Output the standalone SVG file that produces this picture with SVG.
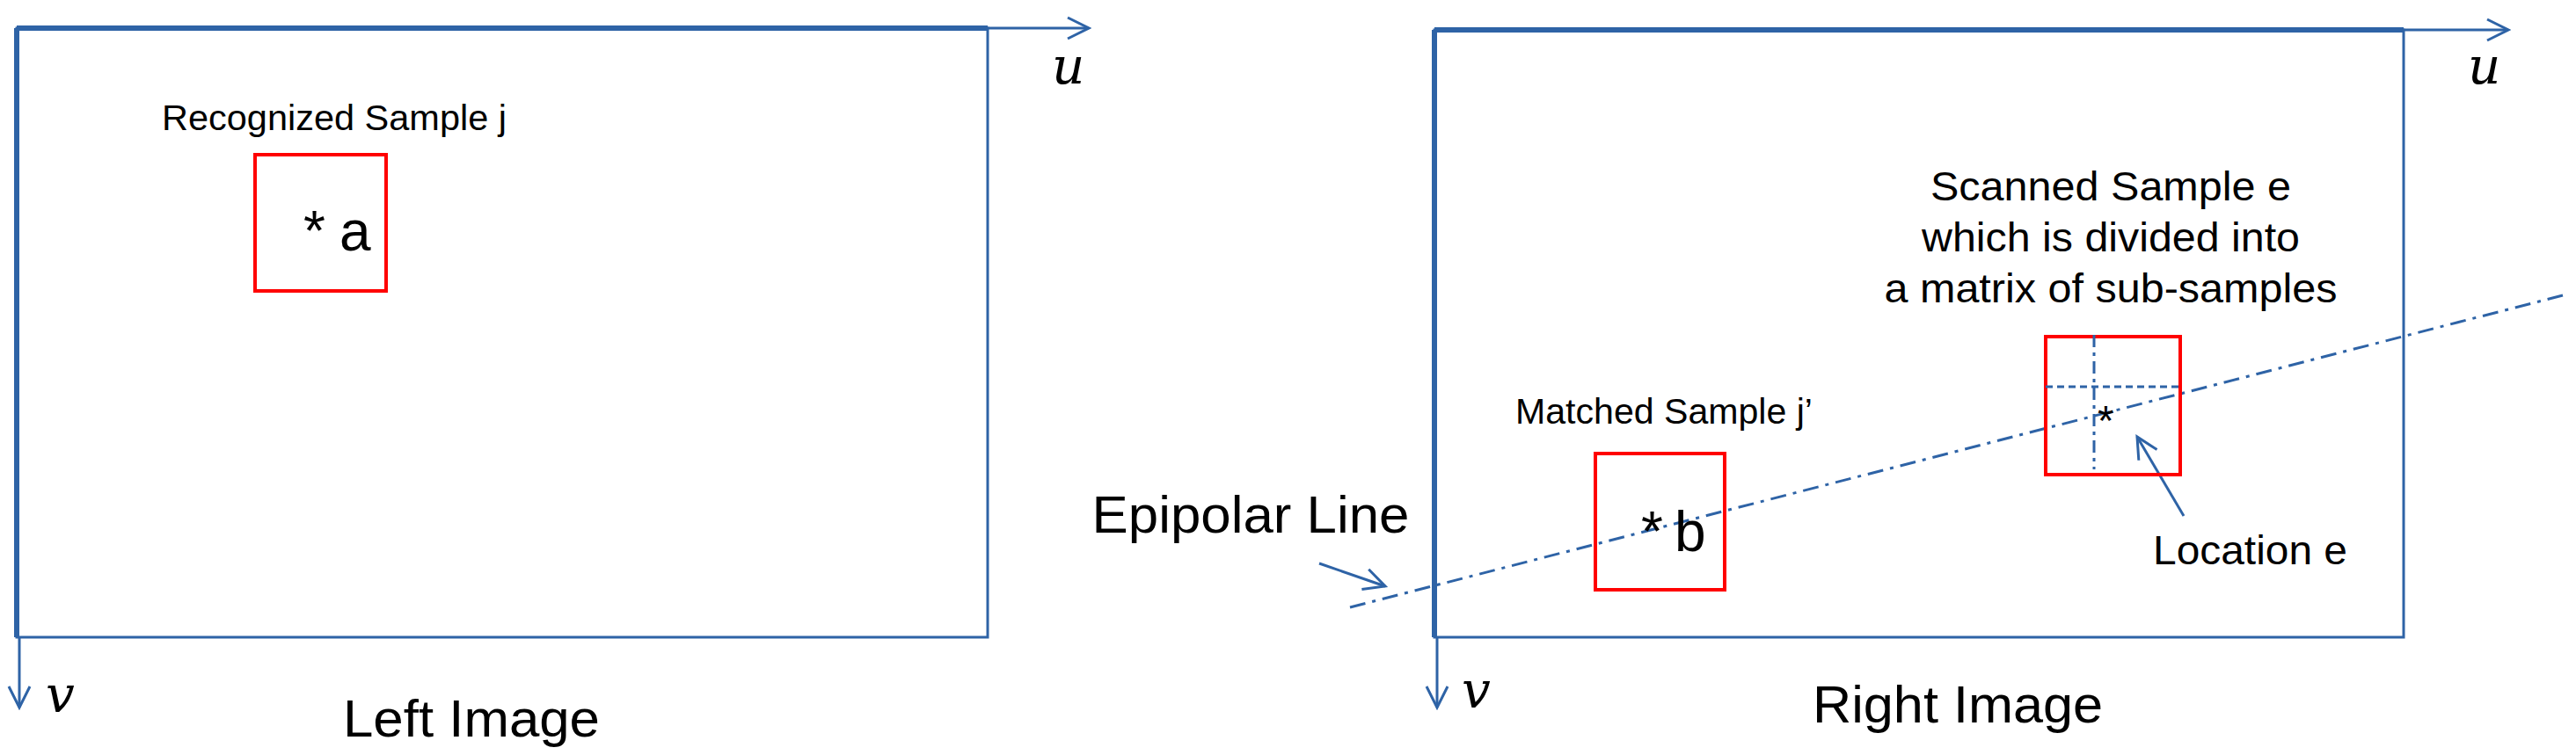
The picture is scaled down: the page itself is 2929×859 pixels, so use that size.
<svg xmlns="http://www.w3.org/2000/svg" width="2929" height="859" viewBox="0 0 2929 859">
<defs>
<style>
.fr{fill:none;stroke:#2E63A6;stroke-width:3}
.ax{fill:none;stroke:#2E63A6;stroke-width:6}
.bx{fill:none;stroke:#FF0000;stroke-width:4}
.t{font-family:"Liberation Sans",Arial,sans-serif;fill:#000}
.m{font-family:"DejaVu Serif","Liberation Serif",serif;font-style:italic;fill:#000;font-size:58px}
.ln{fill:none;stroke:#2E63A6;stroke-width:3}
</style>
<marker id="ah2" viewBox="0 0 30 30" refX="27" refY="15" markerWidth="30" markerHeight="30" markerUnits="userSpaceOnUse" orient="auto">
<path d="M3,3 L27,15 L3,27" fill="none" stroke="#2E63A6" stroke-width="3"/>
</marker>
</defs>
<g id="left-image">
<rect class="fr" x="19" y="32" width="1104" height="693"/>
<line class="ax" x1="19" y1="32" x2="1123" y2="32"/>
<line class="ax" x1="19" y1="32" x2="19" y2="725"/>
<line class="ln" x1="1123" y1="32" x2="1238" y2="32" marker-end="url(#ah2)"/>
<line class="ln" x1="22" y1="725" x2="22" y2="805" marker-end="url(#ah2)"/>
<text class="m" x="1196" y="95">u</text>
<text class="m" x="52" y="810">v</text>
<text class="t" x="536" y="838" font-size="60" text-anchor="middle" textLength="292" lengthAdjust="spacingAndGlyphs">Left Image</text>
</g>
<g id="sample-a">
<text class="t" x="380" y="148" font-size="40" text-anchor="middle" textLength="392" lengthAdjust="spacingAndGlyphs">Recognized Sample j</text>
<rect class="bx" x="290" y="176" width="149" height="155"/>
<text class="t" x="345" y="285" font-size="64">*</text>
<text class="t" x="386" y="285" font-size="64">a</text>
</g>
<g id="right-image">
<rect class="fr" x="1631" y="34" width="1102" height="691"/>
<line class="ax" x1="1631" y1="34" x2="2733" y2="34"/>
<line class="ax" x1="1631" y1="34" x2="1631" y2="725"/>
<line class="ln" x1="2733" y1="34" x2="2852" y2="34" marker-end="url(#ah2)"/>
<line class="ln" x1="1634" y1="725" x2="1634" y2="805" marker-end="url(#ah2)"/>
<text class="m" x="2806" y="95">u</text>
<text class="m" x="1662" y="805">v</text>
<text class="t" x="2226" y="822" font-size="60" text-anchor="middle" textLength="330" lengthAdjust="spacingAndGlyphs">Right Image</text>
</g>
<g id="connectors">
<line class="ln" x1="1535" y1="691" x2="2914" y2="336" stroke-dasharray="18,8,4,8"/>
<line class="ln" x1="1500" y1="641" x2="1575" y2="667" marker-end="url(#ah2)"/>
<line class="ln" x1="2483" y1="587" x2="2430" y2="497" marker-end="url(#ah2)"/>
</g>
<g id="epipolar-label">
<text class="t" x="1422" y="606" font-size="60" text-anchor="middle" textLength="361" lengthAdjust="spacingAndGlyphs">Epipolar Line</text>
</g>
<g id="sample-b">
<text class="t" x="1892" y="482" font-size="40" text-anchor="middle" textLength="338" lengthAdjust="spacingAndGlyphs">Matched Sample j’</text>
<rect class="bx" x="1814" y="516" width="147" height="155"/>
<text class="t" x="1866" y="627" font-size="64">*</text>
<text class="t" x="1904" y="627" font-size="64">b</text>
</g>
<g id="sample-e">
<text class="t" x="2400" y="228" font-size="46" text-anchor="middle" textLength="410" lengthAdjust="spacingAndGlyphs">Scanned Sample e</text>
<text class="t" x="2400" y="286" font-size="46" text-anchor="middle" textLength="430" lengthAdjust="spacingAndGlyphs">which is divided into</text>
<text class="t" x="2400" y="344" font-size="46" text-anchor="middle" textLength="515" lengthAdjust="spacingAndGlyphs">a matrix of sub-samples</text>
<rect class="bx" x="2326" y="383" width="153" height="157"/>
<line class="ln" x1="2326" y1="440" x2="2479" y2="440" stroke-dasharray="8,5"/>
<line class="ln" x1="2381" y1="381" x2="2381" y2="534" stroke-dasharray="14,6,4,6"/>
<text class="t" x="2385" y="495" font-size="48">*</text>
</g>
<g id="location-e">
<text class="t" x="2448" y="642" font-size="46" textLength="221" lengthAdjust="spacingAndGlyphs">Location e</text>
</g>
</svg>
